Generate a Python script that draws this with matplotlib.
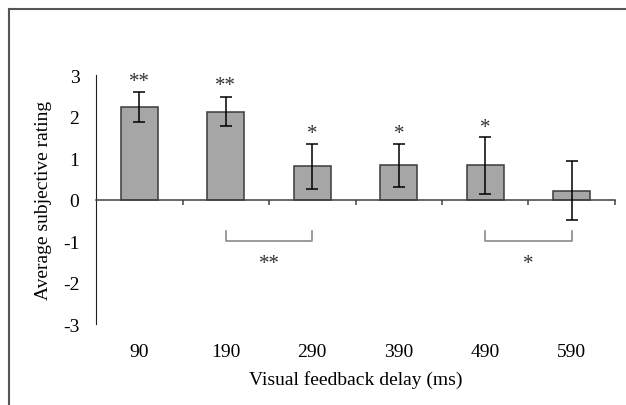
import numpy as np
import matplotlib
matplotlib.use("Agg")
import matplotlib.pyplot as plt
from matplotlib.lines import Line2D

plt.rcParams['font.family'] = ['Liberation Serif', 'DejaVu Serif']
plt.rcParams['axes.unicode_minus'] = False

# data
delays = ["90", "190", "290", "390", "490", "590"]
ratings = [2.23, 2.12, 0.80, 0.82, 0.82, 0.21]
errors = [0.36, 0.34, 0.54, 0.51, 0.69, 0.71]
stars = ["**", "**", "*", "*", "*", ""]
star_y = [2.85, 2.75, 1.58, 1.58, 1.74, None]
# pairwise comparisons: (left bar, right bar, label)
pairs = [(1, 2, "**"), (4, 5, "*")]
bracket_top = -0.76
bracket_bottom = -1.01
pair_label_y = -1.55

fig = plt.figure(figsize=(6.26, 4.06), dpi=100)
ax = fig.add_axes([0.1534, 0.1995, 0.829, 0.6133])

x = np.arange(len(delays))
ax.bar(x, ratings, width=0.43, color="#a6a6a6", edgecolor="#3a3a3a", linewidth=1.1, zorder=2)
ax.errorbar(x, ratings, yerr=errors, fmt="none", ecolor="black", elinewidth=1.1,
            capsize=4, capthick=1.1, zorder=3)

for xi, s, sy in zip(x, stars, star_y):
    if s:
        ax.text(xi, sy, s, ha="center", va="center", fontsize=15, color="#333333")

for a, b, lab in pairs:
    ax.plot([a, a, b, b], [bracket_top, bracket_bottom, bracket_bottom, bracket_top],
            color="#8a8a8a", lw=1.2, zorder=2)
    ax.text((a + b) / 2, pair_label_y, lab, ha="center", va="center", fontsize=15, color="#333333")

ax.set_xlim(-0.5, len(delays) - 0.5)
ax.set_ylim(-3, 3)
ax.set_yticks(range(-3, 4))
ax.tick_params(axis="y", length=0, pad=12, labelsize=14)

for side in ["top", "right"]:
    ax.spines[side].set_visible(False)
ax.spines["left"].set_color("#202020")
ax.spines["bottom"].set_position(("data", 0))
ax.spines["bottom"].set_color("#404040")
ax.spines["bottom"].set_linewidth(1.1)

ax.set_xticks(x)
ax.set_xticklabels([])
ax.tick_params(axis="x", which="major", length=0)
ax.set_xticks(x + 0.5, minor=True)
ax.tick_params(axis="x", which="minor", direction="out", length=3.5, width=1.1, color="#404040")

# category labels sit under the plot like Excel's "low" labels
sec = ax.secondary_xaxis("bottom")
sec.set_xticks(x, delays)
sec.tick_params(length=0, pad=14, labelsize=14)
sec.spines["bottom"].set_visible(False)
sec.set_xlabel("Visual feedback delay (ms)", fontsize=14, labelpad=7)

ax.set_ylabel("Average subjective rating", fontsize=14, labelpad=8)

# outer frame, only the top and left edges fall inside the picture
fig.add_artist(Line2D([9 / 626, 1], [1 - 10 / 406, 1 - 10 / 406], transform=fig.transFigure,
                      color="#555555", lw=1.5))
fig.add_artist(Line2D([9 / 626, 9 / 626], [0, 1 - 10 / 406], transform=fig.transFigure,
                      color="#555555", lw=1.5))

fig.savefig("out.png", dpi=100)
